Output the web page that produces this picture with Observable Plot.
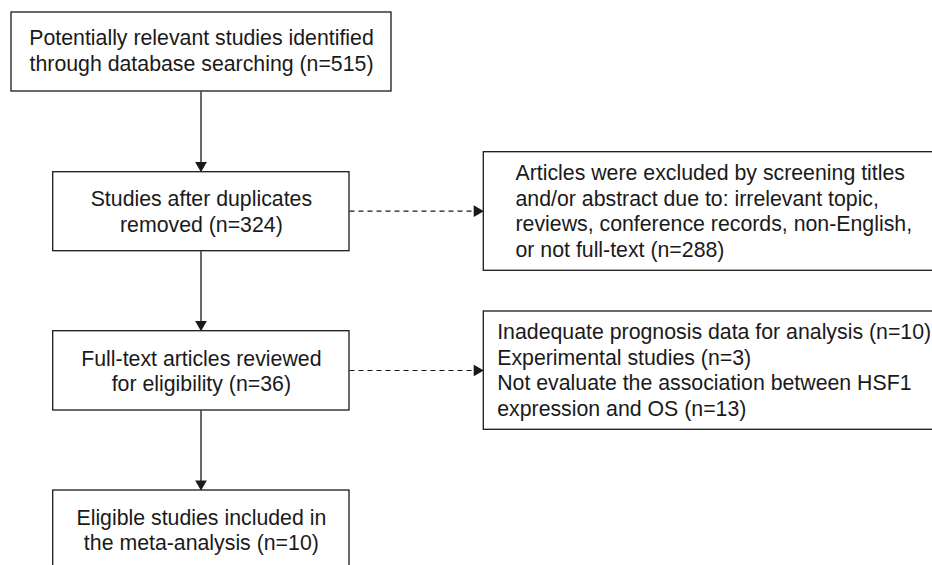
<!DOCTYPE html>
<html>
<head>
<meta charset="utf-8">
<script src="https://cdn.jsdelivr.net/npm/d3@7"></script>
<script src="https://cdn.jsdelivr.net/npm/@observablehq/plot@0.6"></script>
<style>
  html, body { margin: 0; padding: 0; background: #fff; }
  #chart svg { display: block; }
</style>
</head>
<body>
<div id="chart"></div>
<script>
// ---- data: flow stages and counts ----
const stageLabels = [
  "Potentially relevant studies identified\nthrough database searching",
  "Studies after duplicates\nremoved",
  "Full-text articles reviewed\nfor eligibility",
  "Eligible studies included in\nthe meta-analysis"
];
const stageCounts = [515, 324, 36, 10];

const exclusionLabels = [
  "Articles were excluded by screening titles\nand/or abstract due to: irrelevant topic,\nreviews, conference records, non-English,\nor not full-text",
  "Inadequate prognosis data for analysis (n=10)\nExperimental studies (n=3)\nNot evaluate the association between HSF1\nexpression and OS"
];
const exclusionCounts = [288, 13];
// exclusion box i branches from stage exclusionFrom[i]
const exclusionFrom = [1, 2];

// ---- layout (pixel geometry of the diagram) ----
const stageLayout = [
  {x1: 11, x2: 391, y1: 12, y2: 91, ty: 50.5},
  {x1: 52.7, x2: 349, y1: 171.7, y2: 250.7, ty: 211.5},
  {x1: 52.7, x2: 349, y1: 330.7, y2: 410, ty: 370.8},
  {x1: 52.7, x2: 349, y1: 490, y2: 575, ty: 529.7}
];
const exclLayout = [
  {x1: 483.3, x2: 945, y1: 151.7, y2: 270.3, tx: 515, ty: 211, ay: 210.7},
  {x1: 483.3, x2: 945, y1: 311, y2: 429.3, tx: 496.7, ty: 370, ay: 370}
];
const spineX = 200.5;

const stages = stageLabels.map((s, i) => ({
  ...stageLayout[i],
  text: `${s} (n=${stageCounts[i]})`
}));
const excl = exclusionLabels.map((s, i) => ({
  ...exclLayout[i],
  text: `${s} (n=${exclusionCounts[i]})`,
  from: exclusionFrom[i]
}));

const downEdges = d3.range(stages.length - 1).map(i => ({
  x: spineX, y1: stages[i].y2, y2: stages[i + 1].y1
}));
const sideEdges = excl.map(e => ({x1: stages[e.from].x2, x2: e.x1, y: e.ay}));

const ink = "#1a1a1a";
const font = "'Liberation Sans', Arial, Helvetica, sans-serif";
const fs = 21.3;
const headLen = 10;      // arrowhead length
const headR = 5.6;       // symbol radius giving ~10px tall head
const headOff = 6.7;     // centre-to-tip distance of the symbol
const textShift = -1;

const chart = Plot.plot({
  width: 932,
  height: 565,
  margin: 0,
  x: {domain: [0, 932], range: [0, 932], axis: null},
  y: {domain: [0, 565], range: [0, 565], axis: null},
  style: {fontFamily: font, background: "#fff"},
  marks: [
    Plot.rect([...stages, ...excl], {
      x1: "x1", x2: "x2", y1: "y1", y2: "y2",
      fill: "white", stroke: ink, strokeWidth: 1.3
    }),
    // vertical solid connectors
    Plot.link(downEdges, {
      x1: "x", x2: "x", y1: "y1", y2: d => d.y2 - headLen + 1,
      stroke: ink, strokeWidth: 1.3
    }),
    Plot.dot(downEdges, {
      x: "x", y: d => d.y2 - headOff,
      symbol: "triangle2", r: headR, rotate: 180,
      fill: ink, stroke: "none"
    }),
    // dashed side connectors
    Plot.link(sideEdges, {
      x1: "x1", x2: d => d.x2 - headLen + 1, y1: "y", y2: "y",
      stroke: ink, strokeWidth: 1.2, strokeDasharray: "5,4"
    }),
    Plot.dot(sideEdges, {
      x: d => d.x2 - headOff, y: "y",
      symbol: "triangle2", r: headR, rotate: 90,
      fill: ink, stroke: "none"
    }),
    // stage texts (centered)
    Plot.text(stages, {
      x: d => (d.x1 + d.x2) / 2,
      y: d => d.ty + textShift,
      text: "text", fontSize: fs, lineHeight: 1.2,
      fill: ink, textAnchor: "middle", lineAnchor: "middle"
    }),
    // exclusion texts (left aligned)
    Plot.text(excl, {
      x: "tx", y: d => d.ty + textShift,
      text: "text", fontSize: fs, lineHeight: 1.2,
      fill: ink, textAnchor: "start", lineAnchor: "middle"
    })
  ]
});

document.getElementById("chart").appendChild(chart);
</script>
</body>
</html>
